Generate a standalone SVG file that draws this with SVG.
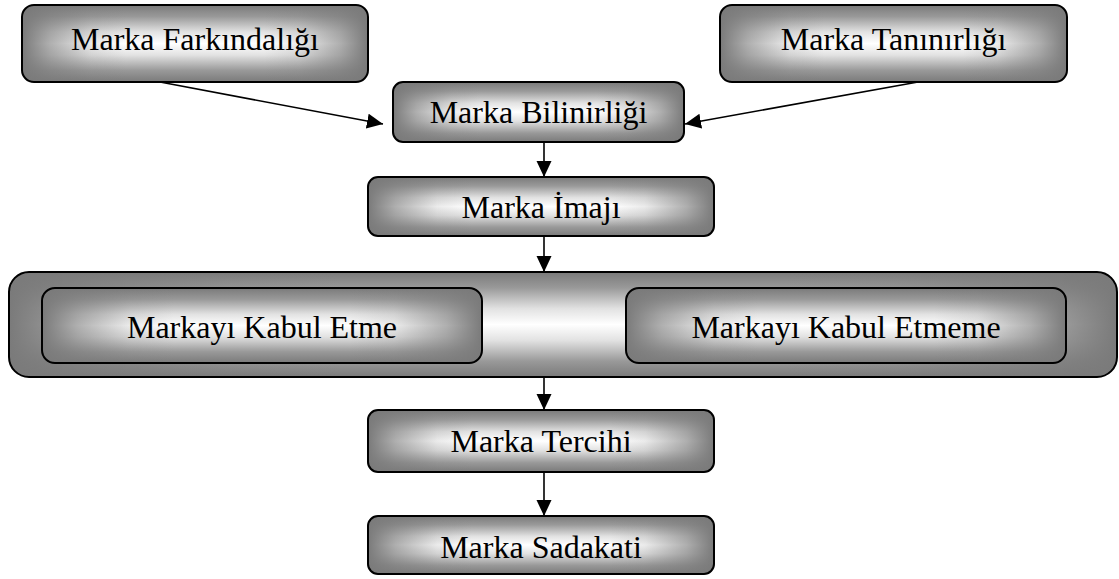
<svg xmlns="http://www.w3.org/2000/svg" width="1119" height="579" viewBox="0 0 1119 579">
  <style>
    .box { fill: url(#shadeV); }
    .edge { fill: url(#shadeH); stroke: #000; stroke-width: 2; }
    .label { font-family: "Liberation Serif", "Times New Roman", serif; font-size: 32px; fill: #000; text-anchor: middle; }
    .link { stroke: #000; stroke-width: 1.6; fill: none; marker-end: url(#arrow); }
  </style>
  <defs>
    <!-- vertical light band: grey top and bottom, white middle -->
    <linearGradient id="shadeV" x1="0" y1="0" x2="0" y2="1">
      <stop offset="0" stop-color="#7a7a7a"/>
      <stop offset="0.15" stop-color="#999999"/>
      <stop offset="0.35" stop-color="#e2e2e2"/>
      <stop offset="0.5" stop-color="#ffffff"/>
      <stop offset="0.65" stop-color="#e2e2e2"/>
      <stop offset="0.85" stop-color="#999999"/>
      <stop offset="1" stop-color="#7a7a7a"/>
    </linearGradient>
    <!-- horizontal darkening toward left and right edges -->
    <linearGradient id="shadeH" x1="0" y1="0" x2="1" y2="0">
      <stop offset="0" stop-color="#7a7a7a" stop-opacity="1"/>
      <stop offset="0.08" stop-color="#7a7a7a" stop-opacity="0.6"/>
      <stop offset="0.2" stop-color="#7a7a7a" stop-opacity="0.15"/>
      <stop offset="0.3" stop-color="#7a7a7a" stop-opacity="0"/>
      <stop offset="0.7" stop-color="#7a7a7a" stop-opacity="0"/>
      <stop offset="0.8" stop-color="#7a7a7a" stop-opacity="0.15"/>
      <stop offset="0.92" stop-color="#7a7a7a" stop-opacity="0.6"/>
      <stop offset="1" stop-color="#7a7a7a" stop-opacity="1"/>
    </linearGradient>
    <marker id="arrow" markerUnits="userSpaceOnUse" markerWidth="17" markerHeight="16" refX="16" refY="7.5" orient="auto">
      <path d="M0,0 L16,7.5 L0,15 z" fill="#000"/>
    </marker>
  </defs>

  <g id="connectors">
    <line class="link" x1="160" y1="82" x2="383" y2="124"/>
    <line class="link" x1="918" y1="82" x2="685" y2="124"/>
    <line class="link" x1="544" y1="142" x2="544" y2="177"/>
    <line class="link" x1="544" y1="236" x2="544" y2="272"/>
    <line class="link" x1="544" y1="377" x2="544" y2="410"/>
    <line class="link" x1="544" y1="472" x2="544" y2="516"/>
  </g>

  <g id="marka-farkindaligi">
    <rect class="box" x="22" y="5" width="346" height="77" rx="12"/>
    <rect class="edge" x="22" y="5" width="346" height="77" rx="12"/>
    <text class="label" x="195" y="50">Marka Farkındalığı</text>
  </g>

  <g id="marka-taninirligi">
    <rect class="box" x="720" y="5" width="347" height="77" rx="12"/>
    <rect class="edge" x="720" y="5" width="347" height="77" rx="12"/>
    <text class="label" x="893.5" y="50">Marka Tanınırlığı</text>
  </g>

  <g id="marka-bilinirligi">
    <rect class="box" x="393" y="82" width="291" height="60" rx="10"/>
    <rect class="edge" x="393" y="82" width="291" height="60" rx="10"/>
    <text class="label" x="538.5" y="123">Marka Bilinirliği</text>
  </g>

  <g id="marka-imaji">
    <rect class="box" x="368" y="177" width="346" height="59" rx="10"/>
    <rect class="edge" x="368" y="177" width="346" height="59" rx="10"/>
    <text class="label" x="541" y="218">Marka İmajı</text>
  </g>

  <g id="kabul-grubu">
    <rect class="box" x="9" y="272" width="1108" height="105" rx="20"/>
    <rect class="edge" x="9" y="272" width="1108" height="105" rx="20"/>
  </g>

  <g id="markayi-kabul-etme">
    <rect class="box" x="42" y="288" width="440" height="75" rx="13"/>
    <rect class="edge" x="42" y="288" width="440" height="75" rx="13"/>
    <text class="label" x="262" y="338">Markayı Kabul Etme</text>
  </g>

  <g id="markayi-kabul-etmeme">
    <rect class="box" x="626" y="288" width="440" height="75" rx="13"/>
    <rect class="edge" x="626" y="288" width="440" height="75" rx="13"/>
    <text class="label" x="846" y="338">Markayı Kabul Etmeme</text>
  </g>

  <g id="marka-tercihi">
    <rect class="box" x="368" y="410" width="346" height="62" rx="10"/>
    <rect class="edge" x="368" y="410" width="346" height="62" rx="10"/>
    <text class="label" x="541" y="452">Marka Tercihi</text>
  </g>

  <g id="marka-sadakati">
    <rect class="box" x="368" y="516" width="346" height="58" rx="10"/>
    <rect class="edge" x="368" y="516" width="346" height="58" rx="10"/>
    <text class="label" x="541" y="558">Marka Sadakati</text>
  </g>
</svg>
